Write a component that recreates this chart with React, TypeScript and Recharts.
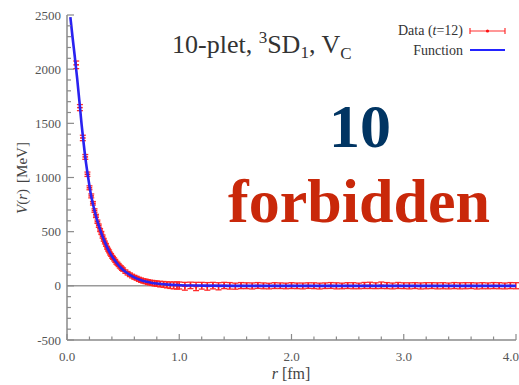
import React from 'react';
import { ComposedChart, Line, Scatter, ErrorBar, XAxis, YAxis, ReferenceLine } from 'recharts';

// lattice data, t = 12
const rData = [
  0.082, 0.115, 0.141, 0.163, 0.182, 0.2, 0.216, 0.231, 0.245, 0.258, 0.271, 0.283, 0.295, 0.306,
  0.317, 0.327, 0.337, 0.347, 0.357, 0.366, 0.375, 0.384, 0.393, 0.402, 0.41, 0.42, 0.43, 0.44,
  0.45, 0.46, 0.47, 0.48, 0.49, 0.5, 0.52, 0.54, 0.56, 0.58, 0.6, 0.62, 0.64, 0.66, 0.68, 0.7,
  0.72, 0.74, 0.76, 0.78, 0.8, 0.83, 0.86, 0.89, 0.92, 0.95, 0.98,
  1.0, 1.05, 1.1, 1.15, 1.2, 1.25, 1.3, 1.35, 1.4, 1.45, 1.5, 1.55, 1.6, 1.65, 1.7, 1.75, 1.8,
  1.85, 1.9, 1.95, 2.0, 2.05, 2.1, 2.15, 2.2, 2.25, 2.3, 2.35, 2.4, 2.45, 2.5, 2.55, 2.6, 2.65,
  2.7, 2.75, 2.8, 2.85, 2.9, 2.95, 3.0, 3.05, 3.1, 3.15, 3.2, 3.25, 3.3, 3.35, 3.4, 3.45, 3.5,
  3.55, 3.6, 3.65, 3.7, 3.75, 3.8, 3.85, 3.9, 3.95, 4.0,
];
const vData = [
  2040, 1645, 1365, 1190, 1030, 905, 830, 762, 695, 645, 592, 555, 515, 488,
  455, 425, 400, 378, 352, 334, 318, 298, 285, 268, 258, 244, 230, 214,
  204, 192, 178, 170, 158, 150, 131, 116, 102, 90, 79, 70, 60, 52, 45, 41,
  35, 30, 27, 23, 20, 16, 13, 9, 6, 4, 3,
  3, -4, 4, -6, 1, -5, 2, -4, 3, 0, -3, 2, 1, -1, 3, 0, -2,
  2, 1, -1, 2, 0, -1, 2, 1, -2, 1, 3, 0, -1, 2, 1, -1, 3,
  4, 1, 5, 2, -1, 3, 1, 0, 2, -1, 1, 2, 0, 1, -1, 2, 0,
  1, 2, -1, 1, 0, 2, 1, -1, 2, 1,
];
const eData = [
  35, 28, 25, 22, 20, 18, 18, 16, 16, 15, 15, 15, 14, 14,
  14, 13, 13, 13, 13, 13, 13, 13, 13, 13, 13, 14, 14, 14,
  14, 14, 14, 15, 15, 15, 16, 16, 17, 17, 18, 18, 19, 20, 20, 21,
  22, 22, 23, 24, 25, 26, 27, 28, 30, 32, 33,
  32, 36, 30, 38, 31, 35, 30, 33, 29, 30, 28, 28, 27, 28, 27, 27, 26,
  27, 26, 26, 27, 26, 27, 26, 27, 27, 26, 27, 28, 26, 27, 28, 26, 28,
  29, 27, 30, 28, 27, 28, 27, 28, 27, 28, 28, 27, 28, 28, 27, 28, 28,
  28, 27, 28, 28, 27, 28, 28, 27, 28, 28,
];

// fitted function
const fnR = [
  0.03, 0.05, 0.07, 0.09, 0.11, 0.13, 0.15, 0.17, 0.19, 0.21, 0.23, 0.25, 0.27, 0.29, 0.31,
  0.33, 0.36, 0.39, 0.42, 0.45, 0.48, 0.52, 0.56, 0.6, 0.65, 0.7, 0.75, 0.8, 0.9, 1.0, 1.2,
  1.5, 2.0, 3.0, 4.0,
];
const fnV = [
  2480, 2290, 2110, 1920, 1710, 1490, 1300, 1130, 990, 860, 760, 675, 600, 535, 475,
  420, 350, 290, 243, 202, 167, 130, 101, 78, 56, 40, 29, 21, 11, 6, 2,
  0, 0, 0, 0,
];

const xMajor = [0, 1, 2, 3, 4];
const xLabels = ['0.0', '1.0', '2.0', '3.0', '4.0'];
const yMajor = [-500, 0, 500, 1000, 1500, 2000, 2500];
const yLabels = ['-500', '0', '500', '1000', '1500', '2000', '2500'];

const points = rData.map((r, i) => ({ r, v: vData[i], err: eData[i] }));
const curve = fnR.map((r, i) => ({ r, v: fnV[i] }));

// minor ticks: 0.2 fm, 100 MeV
const xTicks: number[] = [];
for (let i = 0; i <= 20; i++) xTicks.push(Math.round(i * 2) / 10);
const yTicks: number[] = [];
for (let v = -500; v <= 2500; v += 100) yTicks.push(v);

const AXIS = '#8a8a8a';
const TXT = '#555';
const FONT = "'Liberation Serif', 'DejaVu Serif', serif";

function XTick(p: any) {
  const { x, y, payload, top } = p;
  const idx = xMajor.findIndex((m) => Math.abs(m - payload.value) < 1e-6);
  const len = idx >= 0 ? 6 : 3.5;
  const last = idx === xMajor.length - 1;
  return (
    <g>
      <line x1={x} x2={x} y1={y} y2={top ? y + len : y - len} stroke={AXIS} strokeWidth={1.2} />
      {!top && idx >= 0 && (
        <text
          x={last ? 519 : x}
          y={y + 21}
          textAnchor={last ? 'end' : 'middle'}
          fontSize={13}
          fill={TXT}
          fontFamily={FONT}
        >
          {xLabels[idx]}
        </text>
      )}
    </g>
  );
}

function YTick(p: any) {
  const { x, y, payload, right } = p;
  const idx = yMajor.indexOf(payload.value);
  const len = idx >= 0 ? 7 : 4;
  return (
    <g>
      <line x1={x} x2={right ? x - len : x + len} y1={y} y2={y} stroke={AXIS} strokeWidth={1.2} />
      {!right && idx >= 0 && (
        <text x={x - 6} y={y + 4.5} textAnchor="end" fontSize={13} fill={TXT} fontFamily={FONT}>
          {yLabels[idx]}
        </text>
      )}
    </g>
  );
}

// small "+" marker like gnuplot
const dot = (p: any) => (
  <g>
    <line x1={p.cx - 2.8} x2={p.cx + 2.8} y1={p.cy} y2={p.cy} stroke="#ff1a1a" strokeWidth={1.5} />
    <line x1={p.cx} x2={p.cx} y1={p.cy - 2.8} y2={p.cy + 2.8} stroke="#ff1a1a" strokeWidth={1.5} />
  </g>
);

export default function App() {
  return (
    <div style={{ position: 'absolute', left: 0, top: 0, width: 519, height: 385, background: '#fff' }}>
      <ComposedChart width={519} height={385} margin={{ top: 15, right: 3, bottom: 0, left: 0 }}>
        <XAxis
          xAxisId={0}
          type="number"
          dataKey="r"
          domain={[0, 4]}
          ticks={xTicks}
          interval={0}
          height={45}
          tickSize={0}
          tickMargin={0}
          tickLine={false}
          axisLine={{ stroke: AXIS, strokeWidth: 1.5 }}
          tick={(p: any) => <XTick {...p} />}
          allowDataOverflow
        />
        <XAxis
          xAxisId="top"
          orientation="top"
          type="number"
          dataKey="r"
          domain={[0, 4]}
          ticks={xTicks}
          interval={0}
          height={0}
          tickSize={0}
          tickMargin={0}
          tickLine={false}
          axisLine={{ stroke: AXIS, strokeWidth: 1.5 }}
          tick={(p: any) => <XTick {...p} top />}
          allowDataOverflow
        />
        <YAxis
          yAxisId={0}
          type="number"
          domain={[-500, 2500]}
          ticks={yTicks}
          interval={0}
          width={67}
          tickSize={0}
          tickMargin={0}
          tickLine={false}
          axisLine={{ stroke: AXIS, strokeWidth: 1.5 }}
          tick={(p: any) => <YTick {...p} />}
          allowDataOverflow
        />
        <YAxis
          yAxisId="right"
          orientation="right"
          type="number"
          domain={[-500, 2500]}
          ticks={yTicks}
          interval={0}
          width={0}
          tickSize={0}
          tickMargin={0}
          tickLine={false}
          axisLine={{ stroke: AXIS, strokeWidth: 1.5 }}
          tick={(p: any) => <YTick {...p} right />}
          allowDataOverflow
        />
        <ReferenceLine y={0} stroke="#9a9a9a" strokeWidth={1.5} />
        <Scatter data={points} dataKey="v" shape={dot} isAnimationActive={false}>
          <ErrorBar dataKey="err" direction="y" width={3} stroke="#ff2a2a" strokeWidth={1.3} />
        </Scatter>
        <Line
          data={curve}
          dataKey="v"
          type="monotone"
          stroke="#2a22f0"
          strokeWidth={2.6}
          dot={false}
          isAnimationActive={false}
          {...({ zIndex: 900 } as any)}
        />
      </ComposedChart>
      <svg
        width={519}
        height={385}
        style={{ position: 'absolute', left: 0, top: 0, pointerEvents: 'none' }}
        fontFamily={FONT}
      >
        <text x={172} y={53} fontSize={26} fill="#333">
          {'10-plet, '}
          <tspan dy={-10} fontSize={17}>3</tspan>
          <tspan dy={10}>SD</tspan>
          <tspan dy={5} fontSize={17}>1</tspan>
          <tspan dy={-5}>{', V'}</tspan>
          <tspan dy={6} fontSize={17}>C</tspan>
        </text>

        <text x={463} y={35} fontSize={14} textAnchor="end" fill="#333">
          {'Data ('}
          <tspan fontStyle="italic">t</tspan>
          {'=12)'}
        </text>
        <line x1={470} x2={505} y1={31} y2={31} stroke="#ff3030" strokeWidth={1.2} />
        <line x1={470} x2={470} y1={28} y2={34} stroke="#ff3030" strokeWidth={1.2} />
        <line x1={505} x2={505} y1={28} y2={34} stroke="#ff3030" strokeWidth={1.2} />
        <circle cx={487.5} cy={31} r={1.6} fill="#ff1010" />
        <text x={463} y={55} fontSize={14} textAnchor="end" fill="#333">Function</text>
        <line x1={470} x2={505} y1={50} y2={50} stroke="#2323ff" strokeWidth={2} />

        <text x={360} y={147} textAnchor="middle" fontSize={62} fontWeight="bold" fill="#013563">10</text>
        <text x={359} y={222} textAnchor="middle" fontSize={62} fontWeight="bold" fill="#c9280a">forbidden</text>

        <text transform="translate(27,178) rotate(-90)" textAnchor="middle" fontSize={15} fill="#444">
          <tspan fontStyle="italic">V</tspan>
          {'('}
          <tspan fontStyle="italic">r</tspan>
          {')'}
          <tspan dx={6}>[MeV]</tspan>
        </text>
        <text x={291} y={379} textAnchor="middle" fontSize={16} fill="#444">
          <tspan fontStyle="italic">r</tspan>
          {' [fm]'}
        </text>
      </svg>
    </div>
  );
}
